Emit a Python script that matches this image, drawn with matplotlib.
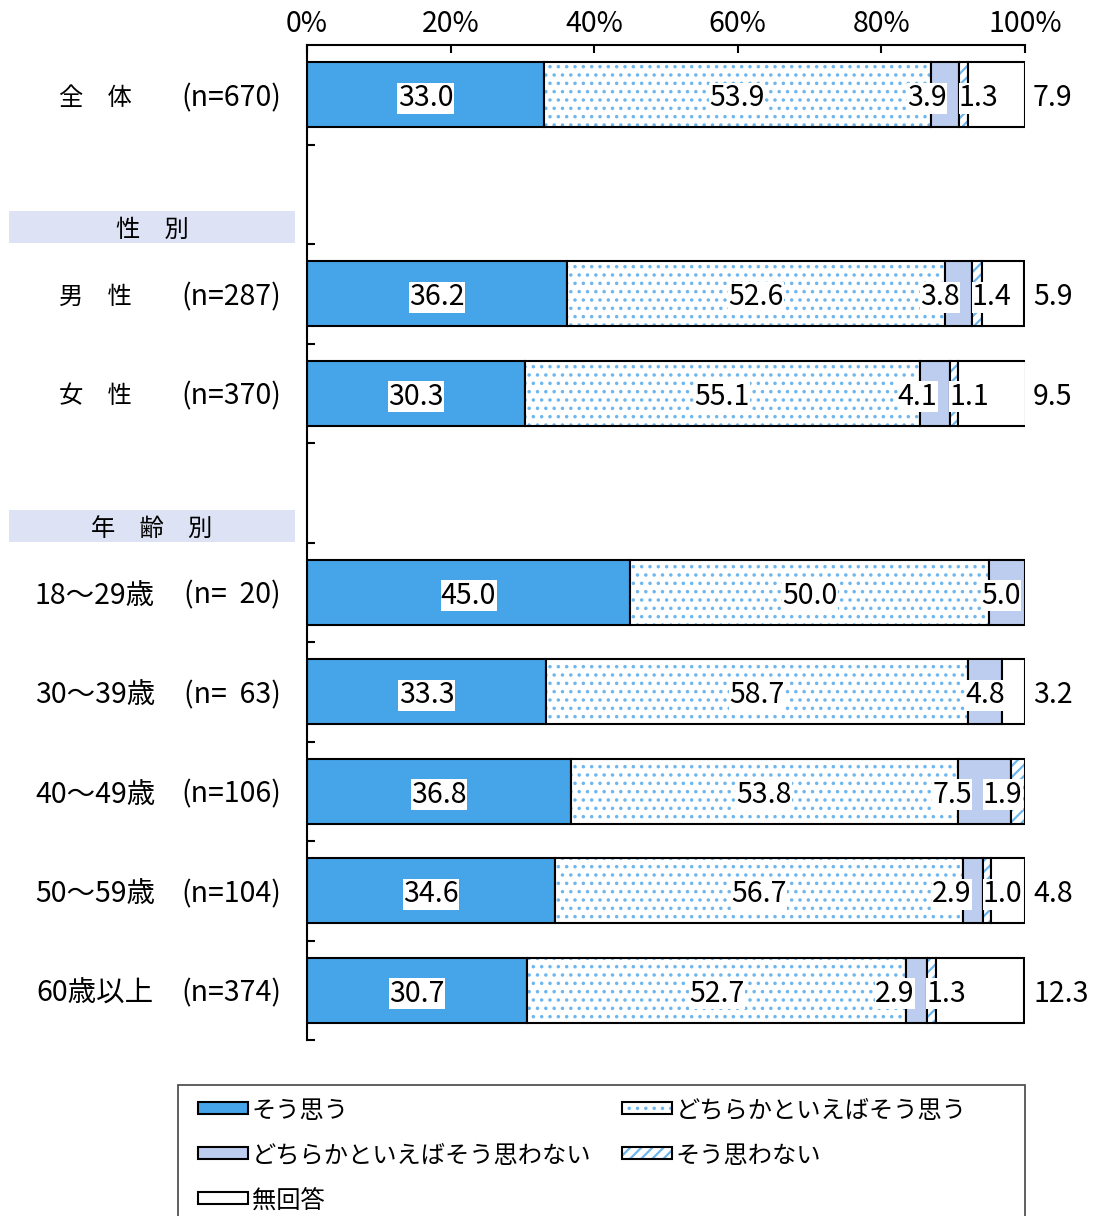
import numpy as np
import matplotlib
matplotlib.use("Agg")
import matplotlib.pyplot as plt
from matplotlib.patches import Rectangle

plt.rcParams["font.family"] = ["Noto Sans CJK JP", "DejaVu Sans"]

# ── data ────────────────────────────────────────────────────────────────────
cats = ["そう思う", "どちらかといえばそう思う", "どちらかといえばそう思わない", "そう思わない", "無回答"]
rows = ["全　体", "男　性", "女　性", "18～29歳", "30～39歳", "40～49歳", "50～59歳", "60歳以上"]
ns = ["(n=670)", "(n=287)", "(n=370)", "(n=  20)", "(n=  63)", "(n=106)", "(n=104)", "(n=374)"]
slots = [0, 2, 3, 5, 6, 7, 8, 9]
sou = [33.0, 36.2, 30.3, 45.0, 33.3, 36.8, 34.6, 30.7]
dochi_sou = [53.9, 52.6, 55.1, 50.0, 58.7, 53.8, 56.7, 52.7]
dochi_not = [3.9, 3.8, 4.1, 5.0, 4.8, 7.5, 2.9, 2.9]
not_sou = [1.3, 1.4, 1.1, 0.0, 0.0, 1.9, 1.0, 1.3]
muk = [7.9, 5.9, 9.5, 0.0, 3.2, 0.0, 4.8, 12.3]
headers = ["性　別", "年　齢　別"]
header_slots = [1, 4]

vals = np.array([sou, dochi_sou, dochi_not, not_sou, muk]).T

C_SOU = "#46A5E9"
C_DOT = "#6DB6EE"
C_LAV = "#BDCDF0"
C_HEAD = "#DDE3F5"
FS = 17.5   # kanji / kana text
FN = 20.5   # numbers
HATCH = {1: ("..", 1.3), 3: ("///", 1.6)}   # pattern, hatch line width

W, H = 1101, 1216
fig = plt.figure(figsize=(W / 100, H / 100), dpi=100)
ax = fig.add_axes([307 / W, 1 - 1040 / H, 718 / W, 995 / H])
ax.set_xlim(0, 100)
ax.set_ylim(9.5, -0.5)

PX = 100 / 718  # data units per pixel (x)
BH = 0.65
VA = "center_baseline"

def seg(y, left, width, style):
    if width <= 0:
        return
    if style in HATCH:
        hat, hlw = HATCH[style]
        with plt.rc_context({"hatch.linewidth": hlw}):
            ax.barh(y, width, left=left, height=BH, color="white", edgecolor=C_DOT, hatch=hat, lw=0)
        ax.barh(y, width, left=left, height=BH, color="none", edgecolor="black", lw=1.5)
    else:
        fc = {0: C_SOU, 2: C_LAV, 4: "white"}[style]
        ax.barh(y, width, left=left, height=BH, color=fc, edgecolor="black", lw=1.5)

box = dict(facecolor="white", edgecolor="none", pad=0.3)
LW = 42 * PX  # label width in data units

for r, y in enumerate(slots):
    v = vals[r]
    starts = np.concatenate([[0], np.cumsum(v)[:-1]])
    for k in range(5):
        seg(y, starts[k], v[k], k)
    for k in range(2):
        ax.text(starts[k] + v[k] / 2, y, f"{v[k]:.1f}", ha="center", va=VA,
                fontsize=FN, bbox=box)
    l4 = None
    if v[3] > 0:
        l4 = min(starts[3], 100 - LW)
        ax.text(l4, y, f"{v[3]:.1f}", ha="left", va=VA, fontsize=FN, bbox=box)
    if v[2] > 0:
        if l4 is not None:
            right = min(starts[2] + v[2] - 12 * PX, l4 - 11 * PX)
            ax.text(right, y, f"{v[2]:.1f}", ha="right", va=VA, fontsize=FN, bbox=box)
        else:
            c = min(starts[2] + v[2] / 2, 100 - LW / 2 - 3 * PX)
            ax.text(c, y, f"{v[2]:.1f}", ha="center", va=VA, fontsize=FN, bbox=box)
    if v[4] > 0:
        ax.text(100 + 8 * PX, y, f"{v[4]:.1f}", ha="left", va=VA, fontsize=FN)
    # row labels
    fs_row = FS if r < 3 else FN
    ax.text(-212 * PX, y, rows[r], ha="center", va=VA, fontsize=fs_row)
    ax.text(-26 * PX, y, ns[r], ha="right", va=VA, fontsize=FN)

# group headers
for h, s in zip(headers, header_slots):
    y0 = s + 0.17
    ax.add_patch(Rectangle((-298 * PX, y0), 286 * PX, 0.32, facecolor=C_HEAD,
                           edgecolor="none", clip_on=False))
    ax.text(-155 * PX, y0 + 0.16, h, ha="center", va=VA, fontsize=FS)

# axes styling
for s in ["right", "bottom"]:
    ax.spines[s].set_visible(False)
ax.spines["top"].set_linewidth(1.5)
ax.spines["left"].set_linewidth(1.5)
ax.xaxis.tick_top()
ax.set_xticks(np.arange(0, 101, 20))
ax.set_xticklabels([f"{t}%" for t in range(0, 101, 20)], fontsize=FN)
ax.tick_params(axis="x", direction="in", length=6, width=1.5, pad=4)
ax.set_yticks(np.arange(0.5, 10, 1))
ax.set_yticklabels([])
ax.tick_params(axis="y", direction="in", length=6, width=1.5)

# legend (drawn in figure pixels)
def fx(p): return p / W
def fy(p): return 1 - p / H
fig.patches.append(Rectangle((fx(178), fy(1230)), 847 / W, 145 / H, transform=fig.transFigure,
                             facecolor="white", edgecolor="#444444", lw=1.2))
pos = [(198, 1108), (622, 1108), (198, 1153), (622, 1153), (198, 1198)]
for k, (px, py) in enumerate(pos):
    hw, hh = 50, 12
    x0, y0 = fx(px), fy(py + hh / 2)
    if k in HATCH:
        hat, hlw = HATCH[k]
        with plt.rc_context({"hatch.linewidth": hlw}):
            fig.patches.append(Rectangle((x0, y0), hw / W, hh / H, transform=fig.transFigure,
                                         facecolor="white", edgecolor=C_DOT, hatch=hat, lw=0))
        fig.patches.append(Rectangle((x0, y0), hw / W, hh / H, transform=fig.transFigure,
                                     facecolor="none", edgecolor="black", lw=1.5))
    else:
        fc = {0: C_SOU, 2: C_LAV, 4: "white"}[k]
        fig.patches.append(Rectangle((x0, y0), hw / W, hh / H, transform=fig.transFigure,
                                     facecolor=fc, edgecolor="black", lw=1.5))
    fig.text(fx(px + hw + 4), fy(py), cats[k], ha="left", va=VA, fontsize=FS)

fig.savefig("out.png", dpi=100)
